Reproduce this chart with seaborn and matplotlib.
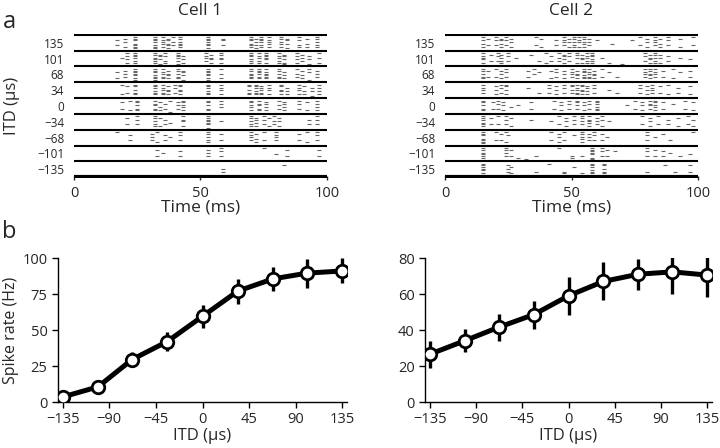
import seaborn as sns
import pandas as pd
import matplotlib
matplotlib.use("Agg")
import matplotlib.pyplot as plt

sns.set_style("ticks")
plt.rcParams['font.family'] = ['Open Sans', 'DejaVu Sans']

# ITD rows of the rasters, top to bottom
itd_rows = [135, 101, 68, 34, 0, -34, -68, -101, -135]
n_trials = 8

# spikes: (time in ms, which trials fired: one char per trial, top to bottom)
c1_r135 = [(17, '00100100'), (20, '01010010'), (24, '11101111'), (32, '11110111'), (35, '10111010'), (37, '01101101'),
           (39, '10010100'), (42, '11011110'), (53, '11111101'), (59, '01100100'), (70, '11101110'), (72, '01010101'),
           (74, '11110110'), (77, '10111010'), (82, '11011010'), (84, '01101001'), (89, '10100110'), (92, '01001010'),
           (96, '11010110')]
c1_r101 = [(19, '00010000'), (21, '10101010'), (24, '11110110'), (32, '11011110'), (34, '01101001'), (36, '10100110'),
           (41, '11110101'), (43, '00101010'), (52, '10110100'), (54, '01011010'), (58, '11011010'), (70, '11101110'),
           (73, '10110110'), (76, '11111010'), (81, '10110110'), (83, '01101011'), (88, '10101010'), (90, '01010100'),
           (93, '00101001'), (97, '10010010')]
c1_r68 = [(17, '00100010'), (20, '01010100'), (24, '11111011'), (32, '11101111'), (35, '10110110'), (37, '01011010'),
          (41, '11010110'), (43, '01101001'), (53, '11111011'), (58, '10010010'), (70, '11011110'), (73, '11110110'),
          (76, '10111110'), (81, '11010110'), (83, '00101010'), (88, '10010100'), (90, '01001010'), (93, '10100001'),
          (96, '01010100')]
c1_r34 = [(19, '10000010'), (21, '01000100'), (24, '11010110'), (32, '11101110'), (35, '10110110'), (37, '01011010'),
          (40, '10100100'), (42, '11011010'), (53, '11101110'), (58, '10110010'), (69, '11010110'), (72, '11101110'),
          (74, '01110110'), (77, '10110010'), (82, '11011010'), (84, '00101010'), (89, '10110010'), (91, '01001010'),
          (94, '00101001'), (97, '10101010')]
c1_r0 = [(19, '01000100'), (22, '10000010'), (25, '11010110'), (32, '10110110'), (34, '01001010'), (36, '00100100'),
         (38, '10000001'), (41, '01010100'), (43, '11011010'), (53, '11010110'), (58, '10101000'), (70, '11011010'),
         (73, '10110110'), (76, '01101010'), (81, '10010100'), (83, '01101010'), (89, '10100100'), (92, '01000010'),
         (96, '10101010')]
c1_rm34 = [(21, '01000100'), (25, '10100100'), (32, '11010110'), (34, '01000010'), (36, '00100100'), (38, '00001000'),
           (43, '10110010'), (53, '11111101'), (58, '00010000'), (70, '11010110'), (72, '01101010'), (75, '10100100'),
           (77, '01000010'), (79, '10010100'), (81, '01010010'), (93, '00100100'), (96, '10100100')]
c1_rm68 = [(17, '10000000'), (22, '00100100'), (31, '01010100'), (33, '10000010'), (36, '00100100'), (38, '00010000'),
           (42, '10100100'), (53, '11010110'), (58, '01000100'), (70, '10110100'), (72, '01001010'), (75, '10000100'),
           (80, '10110100'), (89, '01000100'), (92, '10000010'), (96, '10100100')]
c1_rm101 = [(33, '01000100'), (35, '00010000'), (42, '00100100'), (53, '01010100'), (58, '10100100'), (75, '10000000'),
            (80, '00001000'), (84, '01000100'), (97, '01000100')]
c1_rm135 = [(59, '00010100'), (83, '01000000')]

c2_r135 = [(15, '10101010'), (17, '01000100'), (20, '10100100'), (22, '01101010'), (24, '10100100'), (26, '01010010'),
           (36, '10000100'), (38, '01000010'), (44, '00100100'), (47, '10110100'), (49, '01010010'), (51, '11010110'),
           (53, '10110010'), (55, '11011010'), (57, '01010100'), (60, '00100000'), (66, '00001000'), (74, '00100000'),
           (77, '10000100'), (80, '01010010'), (83, '10110100'), (85, '01001010'), (88, '10100100'), (93, '01000010'),
           (98, '10000100')]
c2_r101 = [(15, '10111010'), (18, '01000100'), (21, '10100100'), (22, '01010110'), (25, '10100100'), (28, '00010000'),
           (34, '01000000'), (37, '00000100'), (40, '10000010'), (42, '00100100'), (45, '10010100'), (47, '01101010'),
           (49, '10100100'), (52, '11010010'), (54, '01011010'), (56, '10110110'), (58, '11101110'), (62, '00010000'),
           (65, '00000010'), (70, '00000001'), (79, '10100100'), (81, '01011010'), (83, '11010110'), (85, '01010010'),
           (88, '00100100'), (93, '00010000'), (97, '00001000')]
c2_r68 = [(15, '11010110'), (17, '01000100'), (20, '10000100'), (22, '01010010'), (24, '10100100'), (33, '01000100'),
          (35, '10010000'), (37, '00100000'), (42, '01000010'), (44, '10100100'), (47, '01010010'), (50, '10110100'),
          (52, '01011010'), (55, '11101110'), (57, '10110110'), (59, '01011010'), (62, '10000100'), (65, '00100000'),
          (68, '00000100'), (79, '10110100'), (81, '11011010'), (83, '10110100'), (86, '01000100'), (90, '10000010'),
          (93, '00100000'), (97, '01000100')]
c2_r34 = [(15, '10110100'), (20, '01010010'), (22, '10100100'), (24, '11010010'), (33, '00100000'), (37, '00000100'),
          (41, '10100100'), (44, '01010010'), (47, '10100100'), (50, '11010100'), (52, '10110110'), (54, '11011010'),
          (56, '01101010'), (59, '10100100'), (65, '00010000'), (68, '00000100'), (77, '10100100'), (80, '01010010'),
          (82, '10110100'), (85, '01000100'), (88, '10000010'), (92, '00100100'), (97, '01000010')]
c2_r0 = [(15, '11010110'), (19, '01000100'), (21, '10100100'), (23, '01010010'), (26, '00001000'), (29, '00010000'),
         (34, '01000100'), (43, '10000100'), (46, '01010010'), (49, '10100100'), (52, '11010100'), (55, '01010010'),
         (57, '10100100'), (60, '11101110'), (72, '00010000'), (75, '10000100'), (78, '01010010'), (81, '10110100'),
         (83, '11011010'), (86, '01000100'), (90, '00100000'), (95, '10000100'), (98, '01000010')]
c2_rm34 = [(15, '11101110'), (18, '01000100'), (21, '10000100'), (24, '10100100'), (26, '01000010'), (34, '00100000'),
           (42, '00010000'), (45, '10000100'), (48, '01010010'), (51, '10100100'), (54, '11010100'), (57, '10111010'),
           (60, '01010100'), (62, '10100010'), (65, '00010000'), (78, '10000100'), (81, '01010010'), (84, '10000100'),
           (88, '00100100'), (92, '01000010'), (96, '10000100'), (98, '00100010')]
c2_rm68 = [(15, '11101111'), (20, '10000100'), (22, '01000100'), (24, '10000010'), (25, '00100000'), (42, '10000100'),
           (45, '01010010'), (47, '10000100'), (51, '00100000'), (54, '11011010'), (57, '01010100'), (59, '10100100'),
           (62, '01000100'), (64, '00010000'), (80, '10100100'), (83, '00010000'), (86, '01000000'), (89, '00000100'),
           (98, '10000000')]
c2_rm101 = [(15, '11011110'), (24, '11010100'), (26, '01000100'), (29, '00000010'), (32, '00000001'), (36, '00000100'),
            (45, '10000000'), (50, '00000110'), (54, '00000100'), (58, '11111011'), (62, '10100100'), (64, '01000100'),
            (67, '00100000'), (80, '10100100'), (83, '01000100'), (86, '00100100'), (89, '00010000'), (93, '00000100'),
            (97, '00001000')]
c2_rm135 = [(15, '11111011'), (25, '01010100'), (26, '00100010'), (36, '00000100'), (41, '10000000'), (47, '00000110'),
            (51, '00100000'), (54, '00000010'), (58, '11101110'), (63, '11010110'), (80, '00000100'), (87, '01000000'),
            (91, '00000100'), (97, '01000100')]

cell1_rows = [c1_r135, c1_r101, c1_r68, c1_r34, c1_r0, c1_rm34, c1_rm68, c1_rm101, c1_rm135]
cell2_rows = [c2_r135, c2_r101, c2_r68, c2_r34, c2_r0, c2_rm34, c2_rm68, c2_rm101, c2_rm135]

# tuning curves
itd = [-135, -101, -68, -34, 0, 34, 68, 101, 135]
rate1 = [3.5, 10.5, 29.5, 42, 59.5, 77, 85.5, 89.5, 91]
err1 = [1.5, 3, 5.5, 6.5, 8, 8.7, 8.5, 10, 8.7]
rate2 = [26.5, 34, 41.5, 48.5, 59, 67, 71, 72.3, 70.5]
err2 = [7.4, 6.3, 7.4, 7.7, 10.7, 10.6, 8.7, 12.5, 12]


def raster_frame(rows):
    recs = []
    for r, spikes in enumerate(rows):
        for t, mask in spikes:
            for k, ch in enumerate(mask):
                if ch == '1':
                    recs.append({'time': t, 'y': r + 0.16 + k * 0.1})
    return pd.DataFrame(recs)


fig = plt.figure(figsize=(7.2, 4.48), dpi=100)

ax_r1 = fig.add_axes([74 / 720, 1 - 178 / 448, 253 / 720, 144 / 448])
ax_r2 = fig.add_axes([445 / 720, 1 - 178 / 448, 253 / 720, 144 / 448])
ax_t1 = fig.add_axes([58 / 720, 1 - 402 / 448, 289 / 720, 144 / 448])
ax_t2 = fig.add_axes([425 / 720, 1 - 402 / 448, 287 / 720, 144 / 448])

for ax, rows, title in [(ax_r1, cell1_rows, 'Cell 1'), (ax_r2, cell2_rows, 'Cell 2')]:
    df = raster_frame(rows)
    sns.scatterplot(data=df, x='time', y='y', marker='_', s=7, linewidth=0.8,
                    color='0.4', ax=ax, legend=False)
    ax.hlines(range(len(itd_rows)), 0, 100, color='k', lw=1.5)
    ax.hlines(len(itd_rows), 0, 100, color='k', lw=3)
    ax.set_xlim(0, 100)
    ax.set_ylim(len(itd_rows) + 0.05, -0.05)
    ax.set_yticks([r + 0.5 for r in range(len(itd_rows))])
    ax.set_yticklabels([str(v).replace('-', '\u2212') for v in itd_rows], fontsize=8.5)
    ax.tick_params(axis='y', length=0, pad=7)
    ax.set_xticks([0, 50, 100])
    ax.tick_params(axis='x', length=3, width=1, direction='inout', labelsize=10.5, pad=4)
    ax.set_xlabel('Time (ms)', fontsize=12.5, labelpad=-1)
    ax.set_ylabel('')
    ax.set_title(title, fontsize=12.5, pad=14)
    sns.despine(ax=ax, left=True, bottom=True)

ax_r1.set_ylabel('ITD (\u03bcs)', fontsize=12)
ax_r1.yaxis.set_label_coords(-0.215, 0.5)

for ax, rate, err, ymax, yticks in [(ax_t1, rate1, err1, 100, [0, 25, 50, 75, 100]),
                                    (ax_t2, rate2, err2, 80, [0, 20, 40, 60, 80])]:
    ax.errorbar(itd, rate, yerr=err, fmt='none', ecolor='k', elinewidth=2.4, capsize=0, zorder=2)
    sns.lineplot(x=itd, y=rate, ax=ax, color='k', lw=3.6, marker='o', markersize=9,
                 markerfacecolor='white', markeredgecolor='k', markeredgewidth=2, zorder=3)
    ax.set_xlim(-139.5, 139.5)
    ax.set_ylim(0, ymax)
    ax.set_xticks([-135, -90, -45, 0, 45, 90, 135])
    ax.set_yticks(yticks)
    ax.tick_params(length=4, width=1, labelsize=10.5, color='k')
    ax.set_xlabel('ITD (\u03bcs)', fontsize=12, labelpad=0.5)
    for s in ['left', 'bottom']:
        ax.spines[s].set_linewidth(1)
        ax.spines[s].set_color('k')
    sns.despine(ax=ax)

ax_t1.set_ylabel('Spike rate (Hz)', fontsize=11.5)
ax_t1.yaxis.set_label_coords(-0.135, 0.5)

fig.text(9 / 720, 1 - 22 / 448, 'a', fontsize=17, ha='center', va='center')
fig.text(9 / 720, 1 - 232 / 448, 'b', fontsize=17, ha='center', va='center')

fig.savefig('out.png', dpi=100)
